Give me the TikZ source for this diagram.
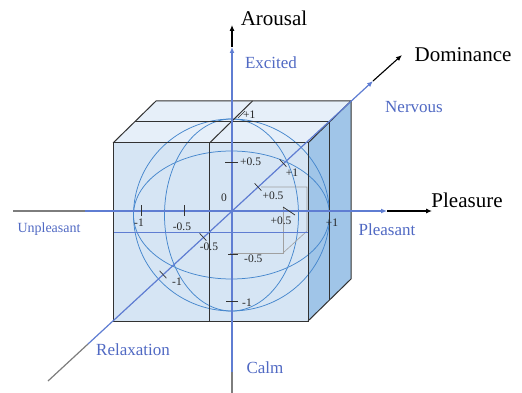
\documentclass[tikz,border=0pt]{standalone}
\usepackage{fontspec}
\setmainfont{Liberation Serif}
\usetikzlibrary{arrows.meta}
\definecolor{lblblue}{RGB}{80,105,195}
\definecolor{axblue}{RGB}{95,125,210}
\definecolor{sphblue}{RGB}{70,135,205}
\definecolor{frontfill}{RGB}{214,229,244}
\definecolor{topfill}{RGB}{230,239,249}
\definecolor{sidefill}{RGB}{160,197,232}
\definecolor{edgecol}{RGB}{50,50,50}
\definecolor{graytail}{RGB}{125,125,125}
\definecolor{helpgray}{RGB}{160,160,160}
\begin{document}
\begin{tikzpicture}[x=1pt,y=-1pt,
  edgeline/.style={draw=edgecol,line width=1pt},
  sphline/.style={draw=sphblue,line width=0.75pt},
  blacktip/.style={-{Latex[length=6pt,width=5pt]},draw=black,fill=black,line width=1.1pt},
  bluetip/.style={-{Latex[length=6pt,width=5pt]},draw=axblue,fill=axblue,line width=1.2pt},
  tailline/.style={draw=graytail,line width=1.2pt},
  bigtxt/.style={font=\fontsize{21}{24}\selectfont,text=black,inner sep=0pt},
  bluetxt/.style={font=\fontsize{17}{20}\selectfont,text=lblblue,inner sep=0pt},
  smallblue/.style={font=\fontsize{14}{16}\selectfont,text=lblblue,inner sep=0pt},
  ticktxt/.style={font=\fontsize{11.5}{13}\selectfont,text=black!85,inner sep=0pt},
  tickline/.style={draw=edgecol,line width=0.7pt},
  helpline/.style={draw=helpgray,line width=0.6pt}]

\useasboundingbox (0,0) rectangle (522,393);

% cube corners
\coordinate (F1) at (113,143);
\coordinate (F2) at (308,143);
\coordinate (F3) at (308,321);
\coordinate (F4) at (113,321);
\coordinate (B1) at (156,101);
\coordinate (B2) at (351,101);
\coordinate (B3) at (351,279);
% mid planes
\coordinate (M1) at (134.5,122);
\coordinate (M2) at (329.5,122);
\coordinate (M3) at (329.5,300);
\coordinate (FM1) at (209.5,143);
\coordinate (FM2) at (209.5,321);
\coordinate (BM1) at (252.5,101);
\coordinate (H1) at (113,232.5);
\coordinate (H2) at (308,232.5);
\coordinate (SC) at (231.5,215);

% faces
\fill[topfill] (F1) -- (B1) -- (B2) -- (F2) -- cycle;
\fill[sidefill] (F2) -- (B2) -- (B3) -- (F3) -- cycle;
\fill[frontfill] (F1) -- (F2) -- (F3) -- (F4) -- cycle;

% sphere
\draw[sphline] (SC) ellipse [x radius=98, y radius=96];
\draw[sphline] (SC) ellipse [x radius=67, y radius=96];
\draw[sphline] (SC) ellipse [x radius=98, y radius=64];

% helper box
\coordinate (G1) at (230,253);
\coordinate (G2) at (283,253);
\coordinate (G3) at (283,207);
\coordinate (G4) at (261,187);
\coordinate (G5) at (307,187);
\coordinate (G6) at (307,231);
\draw[helpline] (G1) -- (G2) -- (G3);
\draw[helpline] (G4) -- (G5) -- (G6) -- (G2);

% secondary horizontal line
\draw[draw=axblue,line width=0.8pt] (H1) -- (H2);

% cube edges
\draw[edgeline] (F1) -- (F2) -- (F3) -- (F4) -- cycle;
\draw[edgeline] (F1) -- (B1) -- (B2) -- (F2);
\draw[edgeline] (B2) -- (B3) -- (F3);
\draw[edgeline] (M1) -- (M2) -- (M3);
\draw[edgeline] (FM1) -- (FM2);
\draw[edgeline] (FM1) -- (BM1);

% axes
\coordinate (Pg) at (13,211);
\coordinate (Pb) at (85,211);
\coordinate (Pbt) at (387,211);
\coordinate (Pend) at (432,211);
\draw[tailline] (Pg) -- (Pb);
\draw[bluetip] (Pb) -- (Pbt);
\draw[blacktip] (Pbt) -- (Pend);

\coordinate (Ag) at (232,393);
\coordinate (Ab) at (232,372);
\coordinate (Abt) at (232,47);
\coordinate (Aend) at (232,25);
\draw[tailline] (Ag) -- (Ab);
\draw[bluetip] (Ab) -- (Abt);
\draw[blacktip] (Abt) -- (Aend);

\coordinate (Dg) at (48,381);
\coordinate (Db) at (88,344);
\coordinate (Dbt) at (373,81);
\coordinate (Dend) at (402,55);
\draw[tailline] (Dg) -- (Db);
\draw[bluetip] (Db) -- (Dbt);
\draw[blacktip] (Dbt) -- (Dend);

% pleasure ticks
\coordinate (p1a) at (141,205); \coordinate (p1b) at (141,216);
\coordinate (p2a) at (184,205); \coordinate (p2b) at (184,216);
\coordinate (p3a) at (283,207); \coordinate (p3b) at (295,215);
\draw[tickline] (p1a) -- (p1b);
\draw[tickline] (p2a) -- (p2b);
\draw[tickline] (p3a) -- (p3b);
\node[ticktxt] (lpm1) at (139,223) {-1};
\node[ticktxt] (lpm05) at (182,227) {-0.5};
\node[ticktxt] (lpp05) at (281,221) {+0.5};
\node[ticktxt] (lpp1) at (332,223) {+1};

% arousal ticks
\coordinate (a1a) at (225,162); \coordinate (a1b) at (238,162);
\coordinate (a2a) at (228,254); \coordinate (a2b) at (238,254);
\coordinate (a3a) at (226,301); \coordinate (a3b) at (238,301);
\coordinate (a4a) at (238,118); \coordinate (a4b) at (245,111);
\draw[tickline] (a1a) -- (a1b);
\draw[tickline] (a2a) -- (a2b);
\draw[tickline] (a3a) -- (a3b);
\draw[tickline] (a4a) -- (a4b);
\node[ticktxt,anchor=west] (lap05) at (240,162) {+0.5};
\node[ticktxt,anchor=west] (lam05) at (244,259) {-0.5};
\node[ticktxt,anchor=west] (lam1) at (242,303) {-1};
\node[ticktxt,anchor=west] (lap1) at (243,115) {+1};
\node[ticktxt] (lzero) at (224,198) {0};

% dominance ticks
\coordinate (d1a) at (279.6,159.3); \coordinate (d1b) at (286.4,166.7);
\coordinate (d2a) at (254.6,183.3); \coordinate (d2b) at (261.4,190.7);
\coordinate (d3a) at (199.6,233.3); \coordinate (d3b) at (206.4,240.7);
\coordinate (d4a) at (159.6,270.8); \coordinate (d4b) at (166.4,278.2);
\draw[tickline] (d1a) -- (d1b);
\draw[tickline] (d2a) -- (d2b);
\draw[tickline] (d3a) -- (d3b);
\draw[tickline] (d4a) -- (d4b);
\node[ticktxt] (ldp1) at (292,173) {+1};
\node[ticktxt] (ldp05) at (273,196) {+0.5};
\node[ticktxt] (ldm05) at (209,247) {-0.5};
\node[ticktxt] (ldm1) at (177,282) {-1};

% axis titles
\node[bigtxt] (arousal) at (274,18) {Arousal};
\node[bigtxt] (dominance) at (463,55) {Dominance};
\node[bigtxt] (pleasure) at (467,200) {Pleasure};

% pole labels
\node[bluetxt] (excited) at (271,63) {Excited};
\node[bluetxt] (nervous) at (414,107) {Nervous};
\node[smallblue] (unpleasant) at (49,229) {Unpleasant};
\node[bluetxt] (pleasant) at (387,230) {Pleasant};
\node[bluetxt] (relaxation) at (133,350) {Relaxation};
\node[bluetxt] (calm) at (265,368) {Calm};
\end{tikzpicture}
\end{document}
